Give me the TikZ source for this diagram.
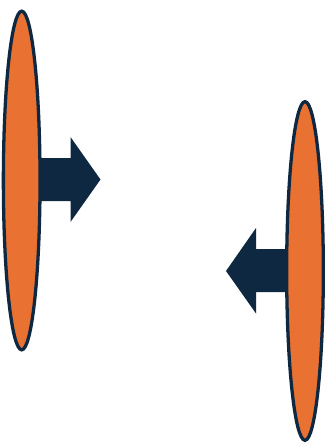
\documentclass[tikz,border=0pt]{standalone}
\usepackage{xcolor}
\usepackage{tikz}
\usetikzlibrary{shapes.geometric}
\definecolor{plateorange}{HTML}{E97132}
\definecolor{platenavy}{HTML}{0E2841}
\tikzset{
  plate/.style={ellipse,draw=platenavy,fill=plateorange,line width=2.8pt,
    inner sep=0pt,minimum width=1.1cm,minimum height=10.16cm},
  push/.style={fill=platenavy}
}
\begin{document}
\begin{tikzpicture}[x=0.03cm,y=-0.03cm]
\useasboundingbox (0,0) rectangle (334,447);
% block arrows, drawn first so the plates cover their tails
\fill[push] (22,158) -- (70.5,158) -- (70.5,137) -- (100.5,179.5) -- (70.5,222) -- (70.5,201) -- (22,201) -- cycle;
\fill[push] (305,249) -- (256,249) -- (256,228) -- (226,271) -- (256,313.5) -- (256,292) -- (305,292) -- cycle;
% plates
\node[plate] (leftplate) at (21.7,180.5) {};
\node[plate] (rightplate) at (305,271) {};
\end{tikzpicture}
\end{document}
